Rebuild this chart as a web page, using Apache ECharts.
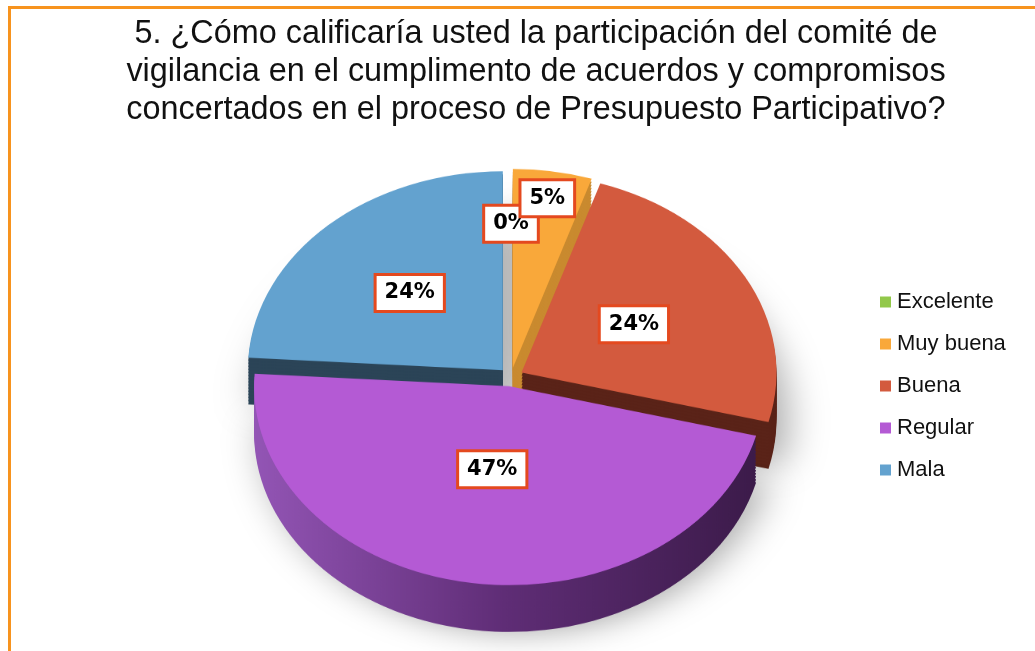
<!DOCTYPE html>
<html>
<head>
<meta charset="utf-8">
<script src="https://cdn.jsdelivr.net/npm/echarts@6/dist/echarts.min.js"></script>
<style>
  html, body { margin: 0; padding: 0; background: #fff; overflow: hidden; }
  #stage { position: relative; width: 1035px; height: 651px; overflow: hidden; }
  #frame { position: absolute; left: 8px; top: 6px; width: 1100px; height: 700px;
           border-top: 3px solid #F7931E; border-left: 3px solid #F7931E; }
  #pie3d { position: absolute; left: 0; top: 0; width: 1035px; height: 900px;
           transform: scaleY(0.78); transform-origin: 511px 377px; }
  #main { position: absolute; left: 0; top: 0; width: 1035px; height: 651px; }
</style>
</head>
<body>
<div id="stage">
  <div id="frame"></div>
  <div id="pie3d"></div>
  <div id="main"></div>
</div>
<script>
const categories = ['Excelente', 'Muy buena', 'Buena', 'Regular', 'Mala']
const percents = [0, 5, 24, 47, 24]

const titleText = '5. ¿Cómo calificaría usted la participación del comité de\n' +
  'vigilancia en el cumplimento de acuerdos y compromisos\n' +
  'concertados en el proceso de Presupuesto Participativo?'

// look
const colors = ['#92C84A', '#F9A83A', '#D35A3E', '#B45AD4', '#63A2CF']
const purpleSide = new echarts.graphic.LinearGradient(0, 0, 1, 0, [
  { offset: 0, color: '#9355B5' },
  { offset: 0.5, color: '#5F2D76' },
  { offset: 1, color: '#3C1B4A' }
])
const sideColors = ['#C4C4C4', '#C98A2F', '#5A2318', purpleSide, '#2B4457']
// label distance from centre, as a share of the radius
const labelRadius = [0.77, 0.91, 0.55, 0.47, 0.58]

const CX = 511
const CY = 377
const R = 255
const SQUASH = 0.78
const DEPTH = 60
const EXPLODE = 12

const pieData = (palette, extra) => categories.map((name, i) => ({
  name,
  value: percents[i],
  selected: true,
  itemStyle: Object.assign({ color: palette[i] }, extra || {})
}))

// mid angle of each slice (clockwise from 12 o'clock), same as the pie's startAngle 90
const total = percents.reduce((a, b) => a + b, 0)
const midAngles = []
let acc = 0
percents.forEach(v => {
  midAngles.push((acc + v / 2) / total * Math.PI * 2)
  acc += v
})

// bottom chart: tilted pie, squashed with css
const pieChart = echarts.init(document.getElementById('pie3d'), null, { renderer: 'canvas' })
const layers = []
for (let d = DEPTH; d > 0; d -= 4) {
  layers.push({
    type: 'pie',
    silent: true,
    center: [CX, CY + d],
    radius: R,
    startAngle: 90,
    selectedMode: 'multiple',
    selectedOffset: EXPLODE,
    label: { show: false },
    labelLine: { show: false },
    emphasis: { disabled: true },
    itemStyle: d === DEPTH
      ? { shadowBlur: 40, shadowColor: 'rgba(0,0,0,0.35)', shadowOffsetX: 10 }
      : {},
    data: pieData(sideColors)
  })
}
layers.push({
  type: 'pie',
  silent: true,
  center: [CX, CY],
  radius: R,
  startAngle: 90,
  selectedMode: 'multiple',
  selectedOffset: EXPLODE,
  label: { show: false },
  labelLine: { show: false },
  emphasis: { disabled: true },
  data: pieData(colors)
})
pieChart.setOption({ animation: false, series: layers })

// top chart: title, legend, labels
const chart = echarts.init(document.getElementById('main'), null, { renderer: 'canvas' })
chart.setOption({
  animation: false,
  title: {
    text: titleText,
    left: 536,
    top: 15,
    textAlign: 'center',
    padding: 0,
    textStyle: {
      fontFamily: 'Liberation Sans',
      fontSize: 32.4,
      fontWeight: 'normal',
      lineHeight: 38,
      color: '#111'
    }
  },
  legend: {
    orient: 'vertical',
    left: 875,
    top: 286,
    icon: 'rect',
    itemWidth: 11,
    itemHeight: 11,
    itemGap: 20,
    selectedMode: false,
    data: categories.map((name, i) => ({ name, itemStyle: { color: colors[i], opacity: 1 } })),
    textStyle: {
      fontFamily: 'Liberation Sans',
      fontSize: 22,
      lineHeight: 22,
      color: '#111',
      padding: [0, 0, 0, 1]
    }
  },
  series: [
    {
      type: 'pie',
      center: [CX, CY],
      radius: R,
      startAngle: 90,
      silent: true,
      avoidLabelOverlap: false,
      emphasis: { disabled: true },
      labelLine: { show: false },
      label: {
        show: true,
        position: 'outside',
        formatter: p => p.value + '%',
        fontFamily: 'DejaVu Sans',
        fontWeight: 'bold',
        fontSize: 21,
        lineHeight: 24,
        color: '#000',
        backgroundColor: '#fff',
        borderColor: '#E4491F',
        borderWidth: 3,
        padding: [5, 8]
      },
      labelLayout: function (p) {
        const a = midAngles[p.dataIndex]
        const r = labelRadius[p.dataIndex] * R
        return {
          x: CX + r * Math.sin(a),
          y: CY - r * Math.cos(a) * SQUASH,
          align: 'center',
          verticalAlign: 'middle'
        }
      },
      data: pieData(categories.map(() => 'rgba(0,0,0,0)'))
    }
  ]
})
</script>
</body>
</html>
